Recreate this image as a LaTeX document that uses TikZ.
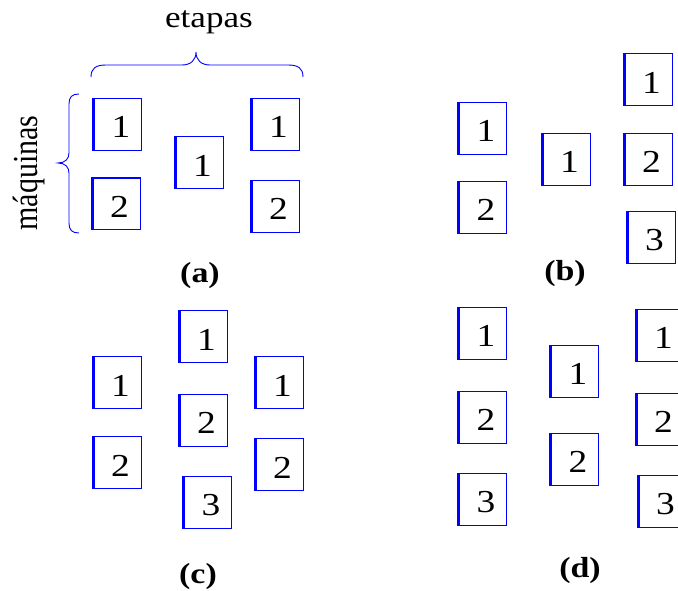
\documentclass[tikz,border=0pt]{standalone}
\usepackage{fontspec}
\setmainfont{Liberation Serif}
\begin{document}
\begin{tikzpicture}[x=1pt,y=-1pt,
  maq/.style={draw=blue, line width=0.9pt, minimum width=49pt, minimum height=52pt, inner sep=0pt, outer sep=0pt},
  leftedge/.style={draw=blue, line width=2.8pt},
  num/.style={inner sep=0pt, font=\fontsize{32}{32}\selectfont},
  bracestroke/.style={draw=blue, line width=0.9pt},
  word/.style={inner sep=0pt, anchor=base, font=\fontsize{30}{30}\selectfont},
  lab/.style={inner sep=0pt, anchor=base, font=\fontsize{29}{29}\selectfont\bfseries}]
\useasboundingbox (0,0) rectangle (678,591);
\clip (0,0) rectangle (678,591);

% machine boxes: name / centre x / centre y / machine number
\foreach \n/\x/\y/\k in {
  a1/117/124/1, a2/115.5/203.5/2, a3/198.5/162.5/1, a4/274.5/124/1, a5/274.5/206/2,
  b1/482/128/1, b2/482/207/2, b3/565.5/159/1, b4/647.5/79.5/1, b5/647.5/159/2, b6/650.5/237/3,
  c1/116.5/382.5/1, c2/116.5/462.5/2, c3/202.5/336.5/1, c4/202.5/420/2, c5/207/502.5/3,
  c6/278.5/382.5/1, c7/278.5/464.5/2,
  d1/482/333/1, d2/482/417/2, d3/482/499/3, d4/574/371/1, d5/574/459/2,
  d6/659.5/335/1, d7/659.5/419/2, d8/661.5/501/3}{
  \node[maq] (\n) at (\x,\y) {};
  \draw[leftedge] ([xshift=1.2pt]\n.north west) -- ([xshift=1.2pt]\n.south west);
  \node[num] (\n-t) at ([shift={(4,3)}]\n.center) {\scalebox{1.17}[1]{\k}};
}
\draw[leftedge, line width=1.8pt] ([yshift=-0.6pt]a2.north west) -- ([yshift=-0.6pt]a2.north east);

% braces
\draw[bracestroke] (91,77) .. controls (91,68) and (96,65) .. (106,65) -- (182,65)
  .. controls (191,65) and (196,60) .. (196,52)
  .. controls (196,60) and (201,65) .. (210,65) -- (288,65)
  .. controls (298,65) and (303,68) .. (303,77);
\draw[bracestroke] (79,94) .. controls (72,94) and (69,97) .. (69,104) -- (69,153)
  .. controls (69,159) and (65,163) .. (58,163)
  .. controls (65,163) and (69,167) .. (69,173) -- (69,223)
  .. controls (69,230) and (72,233) .. (79,233);

% texts
\node[word] (etapas) at (209,28) {\scalebox{1.17}[1]{etapas}};
\node[word, rotate=90] (maquinas) at (37,173) {\scalebox{1}[1.17]{máquinas}};
\node[lab] (la) at (200,282) {\scalebox{1.17}[1]{(a)}};
\node[lab] (lb) at (565,280) {\scalebox{1.17}[1]{(b)}};
\node[lab] (lc) at (198,583) {\scalebox{1.17}[1]{(c)}};
\node[lab] (ld) at (580,577) {\scalebox{1.17}[1]{(d)}};
\end{tikzpicture}
\end{document}
